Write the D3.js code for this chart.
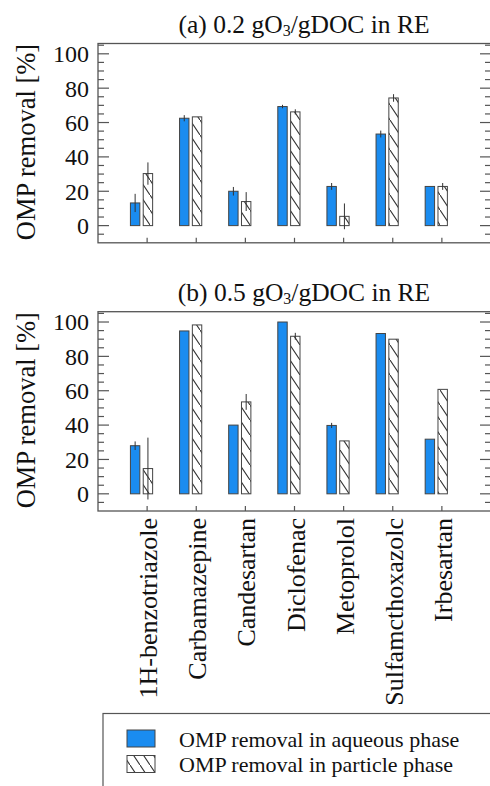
<!DOCTYPE html>
<html>
<head>
<meta charset="utf-8">
<script src="https://cdn.jsdelivr.net/npm/d3@7"></script>
<style>
  body { margin: 0; background: #fff; }
</style>
</head>
<body>
<div id="chart"></div>
<script>
// compounds on the x axis
var compounds = ["1H-benzotriazole", "Carbamazepine", "Candesartan", "Diclofenac",
                 "Metoprolol", "Sulfamethoxazole", "Irbesartan"];
var xLabels = ["1H-benzotriazole", "Carbamazepine", "Candesartan", "Diclofenac",
               "Metoprolol", "Sulfamcthoxazolc", "Irbesartan"];

// (a) 0.2 gO3/gDOC
var aqueousA = [13.2, 62.5, 20, 69.3, 22.8, 53.3, 22.8];
var aqueousErrA = [5.3, 1.8, 2.5, 1, 2, 2, 0];
var particleA = [30.3, 63.3, 14, 66.2, 5.4, 74.3, 22.8];
var particleErrA = [6.5, 0, 5.5, 1.5, 7.5, 2.2, 2];

// (b) 0.5 gO3/gDOC
var aqueousB = [28, 94.8, 40, 100, 39.8, 93.3, 31.8];
var aqueousErrB = [2.5, 0, 0, 0, 1.5, 0, 0];
var particleB = [14.7, 98.3, 53.5, 91.7, 30.8, 90, 60.8];
var particleErrB = [18, 0, 4.6, 2, 0, 0, 0];

var yTicks = [0, 20, 40, 60, 80, 100];

var panels = [
  {title: "(a) 0.2 gO", tail: "/gDOC in RE", top: 43.5, aq: aqueousA, aqErr: aqueousErrA, pa: particleA, paErr: particleErrA},
  {title: "(b) 0.5 gO", tail: "/gDOC in RE", top: 311.7, aq: aqueousB, aqErr: aqueousErrB, pa: particleB, paErr: particleErrB}
];

var W = 490, H = 786;
var left = 98, right = 491, plotH = 199.3;
var blue = "#1a8cf0", edge = "#444";
var serif = "Liberation Serif";

var svg = d3.select("#chart").append("svg")
    .attr("width", W).attr("height", H)
    .attr("font-family", serif);

// hatch pattern
var defs = svg.append("defs");
var pat = defs.append("pattern")
    .attr("id", "hatch")
    .attr("patternUnits", "userSpaceOnUse")
    .attr("width", 10).attr("height", 15);
pat.append("rect").attr("width", 10).attr("height", 15).attr("fill", "#fff");
pat.append("path")
    .attr("d", "M-1,-1.5 L11,16.5 M-11,-16.5 L1,1.5 M9,13.5 L21,31.5")
    .attr("stroke", "#333").attr("stroke-width", 1.1);

var x = d3.scaleLinear().domain([0, compounds.length + 1]).range([left, right]);
var barW = 9.4;

panels.forEach(function(p) {
  var y = d3.scaleLinear().domain([-10, 106]).range([p.top + plotH, p.top]);
  var g = svg.append("g");

  // frame
  g.append("rect")
      .attr("x", left).attr("y", p.top)
      .attr("width", right - left).attr("height", plotH)
      .attr("fill", "none").attr("stroke", "#555").attr("stroke-width", 1.3);

  // y ticks: major inside on both sides, minor every 5
  var minor = d3.range(-5, 106, 5);
  minor.forEach(function(v) {
    var isMajor = v % 20 === 0 && v >= 0;
    var len = isMajor ? 11 : 6;
    g.append("line").attr("x1", left).attr("x2", left + len)
        .attr("y1", y(v)).attr("y2", y(v))
        .attr("stroke", "#555").attr("stroke-width", 1.2);
    g.append("line").attr("x1", right).attr("x2", right - len)
        .attr("y1", y(v)).attr("y2", y(v))
        .attr("stroke", "#555").attr("stroke-width", 1.2);
  });

  g.selectAll(".ylab").data(yTicks).enter().append("text")
      .attr("x", 89).attr("y", d => y(d))
      .attr("dy", "0.35em")
      .attr("text-anchor", "end")
      .attr("font-family", serif)
      .attr("font-size", 24)
      .attr("fill", "#111")
      .text(d => d);

  // x ticks
  compounds.forEach(function(c, i) {
    g.append("line").attr("x1", x(i + 1)).attr("x2", x(i + 1))
        .attr("y1", p.top + plotH).attr("y2", p.top + plotH - 5)
        .attr("stroke", "#555").attr("stroke-width", 1.2);
  });

  // bars
  g.selectAll(".aq").data(p.aq).enter().append("rect")
      .attr("x", (d, i) => x(i + 1) - 12 - barW / 2)
      .attr("y", d => y(d))
      .attr("width", barW)
      .attr("height", d => y(0) - y(d))
      .attr("fill", blue).attr("stroke", edge).attr("stroke-width", 1);

  g.selectAll(".pa").data(p.pa).enter().append("rect")
      .attr("x", (d, i) => x(i + 1) + 0.8 - barW / 2)
      .attr("y", d => y(d))
      .attr("width", barW)
      .attr("height", d => y(0) - y(d))
      .attr("fill", "url(#hatch)").attr("stroke", edge).attr("stroke-width", 1);

  // error bars
  p.aq.forEach(function(v, i) {
    if (!p.aqErr[i]) return;
    g.append("line").attr("x1", x(i + 1) - 12).attr("x2", x(i + 1) - 12)
        .attr("y1", y(v - p.aqErr[i])).attr("y2", y(v + p.aqErr[i]))
        .attr("stroke", "#333").attr("stroke-width", 1);
  });
  p.pa.forEach(function(v, i) {
    if (!p.paErr[i]) return;
    g.append("line").attr("x1", x(i + 1) + 0.8).attr("x2", x(i + 1) + 0.8)
        .attr("y1", y(v - p.paErr[i])).attr("y2", y(v + p.paErr[i]))
        .attr("stroke", "#333").attr("stroke-width", 1);
  });

  // title
  var t = g.append("text")
      .attr("x", 304).attr("y", p.top - 11)
      .attr("text-anchor", "middle")
      .attr("font-family", serif)
      .attr("font-size", 25.5).attr("fill", "#111");
  t.append("tspan").text(p.title);
  t.append("tspan").attr("font-size", 16).attr("dy", 3).text("3");
  t.append("tspan").attr("dy", -3).text(p.tail);

  // y label
  g.append("text")
      .attr("transform", "translate(35," + (p.top + 98.5) + ") rotate(-90)")
      .attr("text-anchor", "middle")
      .attr("font-family", serif)
      .attr("font-size", 26.5).attr("fill", "#111")
      .text("OMP removal [%]");
});

// x labels under bottom panel
svg.selectAll(".xlab").data(xLabels).enter().append("text")
    .attr("transform", (d, i) => "translate(" + (x(i + 1) + 10) + ",518) rotate(-90)")
    .attr("text-anchor", "end")
    .attr("font-family", serif)
    .attr("font-size", 26).attr("fill", "#111")
    .text(d => d);

// legend
var lg = svg.append("g");
lg.append("rect").attr("x", 103).attr("y", 713.5)
    .attr("width", 420).attr("height", 100)
    .attr("fill", "#fff").attr("stroke", "#555").attr("stroke-width", 1.2);
var legendItems = ["OMP removal in aqueous phase", "OMP removal in particle phase"];
var legendFills = [blue, "url(#hatch)"];
legendItems.forEach(function(txt, i) {
  lg.append("rect").attr("x", 127).attr("y", 730 + i * 25.5)
      .attr("width", 28).attr("height", 17)
      .attr("fill", legendFills[i]).attr("stroke", edge).attr("stroke-width", 1);
  lg.append("text").attr("x", 179).attr("y", 747 + i * 25)
      .attr("font-family", serif)
      .attr("font-size", 22).attr("fill", "#111")
      .text(txt);
});
</script>
</body>
</html>
